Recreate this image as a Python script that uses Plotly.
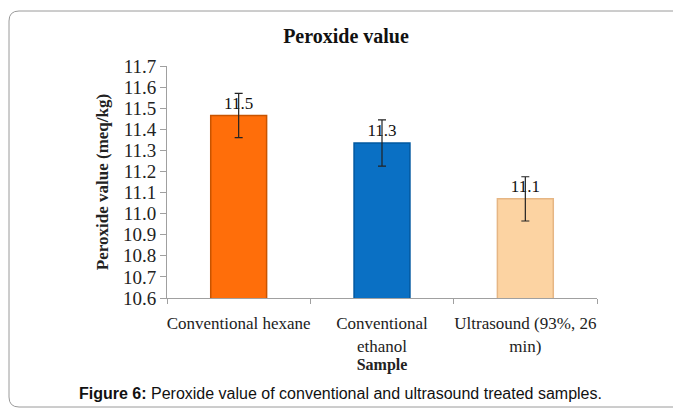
import plotly.graph_objects as go

# data
samples = ["Conventional hexane", "Conventional<br>ethanol", "Ultrasound (93%, 26<br>min)"]
peroxide = [11.465, 11.335, 11.07]
peroxide_err = [0.105, 0.11, 0.105]
bar_colors = ["#FF6E0A", "#0A70C4", "#FCD3A2"]
bar_lines = ["#C85400", "#0058A0", "#E6B684"]
y_ticks = [10.6, 10.7, 10.8, 10.9, 11.0, 11.1, 11.2, 11.3, 11.4, 11.5, 11.6, 11.7]

serif = "Liberation Serif"

fig = go.Figure()
fig.add_trace(go.Bar(
    x=samples,
    y=peroxide,
    marker=dict(color=bar_colors, line=dict(color=bar_lines, width=1.5)),
    error_y=dict(type="data", array=peroxide_err, color="#222222", thickness=1.2, width=4),
    text=peroxide,
    texttemplate="%{y:.1f}",
    textposition="outside",
    textfont=dict(family=serif, size=17, color="#111111"),
    cliponaxis=False,
    width=0.39,
))

# page body has an 8px margin, so positions below are window pixels minus 8
OFF = 8
W, H = 681 - OFF, 412 - OFF
L, R, T, B = 167 - OFF, 597 - OFF, 66 - OFF, 298 - OFF


def px(x):
    return (x - OFF - L) / (R - L)


def py(y):
    return (B - (y - OFF)) / (B - T)


# rounded frame around the figure
x0, x1, y0, y1, rad = 9, 700, 11, 407, 10
path = (f"M {px(x1)},{py(y0)} L {px(x0 + rad)},{py(y0)} "
        f"Q {px(x0)},{py(y0)} {px(x0)},{py(y0 + rad)} "
        f"L {px(x0)},{py(y1 - rad)} "
        f"Q {px(x0)},{py(y1)} {px(x0 + rad)},{py(y1)} "
        f"L {px(x1)},{py(y1)}")

fig.add_shape(type="path", path=path, xref="paper", yref="paper",
              line=dict(color="#9a9a9a", width=1))

fig.add_annotation(
    text="<b>Figure 6:</b> Peroxide value of conventional and ultrasound treated samples.",
    xref="paper", yref="paper", x=px(340), y=py(393), showarrow=False,
    xanchor="center", yanchor="middle",
    font=dict(family="Liberation Sans", size=16, color="#111111"),
)

fig.update_layout(
    width=W, height=H,
    margin=dict(l=L, r=W - R, t=T, b=H - B),
    paper_bgcolor="white",
    plot_bgcolor="white",
    showlegend=False,
    title=dict(text="<b>Peroxide value</b>", x=px(346), xref="paper", xanchor="center",
               y=1 - (36 - OFF) / H, yanchor="middle",
               font=dict(family=serif, size=20, color="#111111")),
    font=dict(family=serif, size=17, color="#222222"),
)

fig.update_yaxes(
    range=[10.6, 11.7],
    tickvals=y_ticks,
    tickformat=".1f",
    automargin=False,
    ticks="outside", ticklen=6, tickcolor="#a0a0a0",
    showline=True, linecolor="#a0a0a0", linewidth=1,
    showgrid=False, zeroline=False,
    tickfont=dict(family=serif, size=19, color="#222222"),
    title=dict(text="<b>Peroxide value (meq/kg)</b>", standoff=10,
               font=dict(family=serif, size=17, color="#222222")),
)

fig.update_xaxes(
    tickson="boundaries",
    tickangle=0,
    automargin=False,
    ticks="outside", ticklen=5, tickcolor="#a0a0a0",
    showline=True, linecolor="#a0a0a0", linewidth=1,
    ticklabelstandoff=10,
    tickfont=dict(family=serif, size=17, color="#222222"),
    title=dict(text="<b>Sample</b>", standoff=4,
               font=dict(family=serif, size=16, color="#222222")),
)

fig.write_html("out.html")
